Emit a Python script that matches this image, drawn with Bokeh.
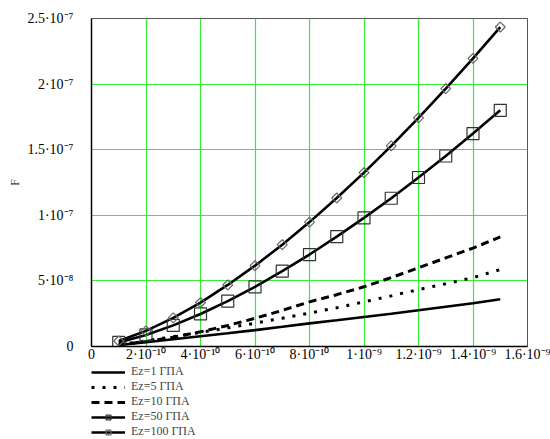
import math
from bokeh.plotting import figure
from bokeh.layouts import column
from bokeh.models import (Range1d, FixedTicker, CustomJSTickFormatter, Legend, LegendItem)
from bokeh.embed import file_html
from bokeh.resources import INLINE

# ---- data ----
x = [1e-10, 2e-10, 3e-10, 4e-10, 5e-10, 6e-10, 7e-10, 8e-10,
     9e-10, 1.0e-9, 1.1e-9, 1.2e-9, 1.3e-9, 1.4e-9, 1.5e-9]

F_ez1 = [1.2e-9, 3.3e-9, 5.5e-9, 7.8e-9, 1.01e-8, 1.25e-8, 1.5e-8, 1.76e-8,
         2.0e-8, 2.25e-8, 2.5e-8, 2.76e-8, 3.03e-8, 3.3e-8, 3.6e-8]
F_ez5 = [1.3e-9, 4.3e-9, 7.5e-9, 1.08e-8, 1.42e-8, 1.78e-8, 2.15e-8, 2.55e-8,
         2.95e-8, 3.4e-8, 3.86e-8, 4.34e-8, 4.78e-8, 5.25e-8, 5.86e-8]
F_ez10 = [1.3e-9, 3.8e-9, 7.0e-9, 1.12e-8, 1.6e-8, 2.15e-8, 2.75e-8, 3.4e-8,
          3.95e-8, 4.55e-8, 5.25e-8, 6.0e-8, 6.75e-8, 7.5e-8, 8.35e-8]
F_ez50 = [3.1e-9, 8.8e-9, 1.61e-8, 2.48e-8, 3.46e-8, 4.55e-8, 5.74e-8, 7.01e-8,
          8.37e-8, 9.8e-8, 1.13e-7, 1.288e-7, 1.452e-7, 1.623e-7, 1.80e-7]
F_ez100 = [4.2e-9, 1.19e-8, 2.18e-8, 3.35e-8, 4.69e-8, 6.16e-8, 7.76e-8, 9.48e-8,
           1.132e-7, 1.325e-7, 1.529e-7, 1.742e-7, 1.965e-7, 2.196e-7, 2.435e-7]

series_names = ["Ez=1 ГПА", "Ez=5 ГПА", "Ez=10 ГПА", "Ez=50 ГПА", "Ez=100 ГПА"]

x_ticks = [0, 2e-10, 4e-10, 6e-10, 8e-10, 1e-9, 1.2e-9, 1.4e-9, 1.6e-9]
x_tick_labels = ["0", "2·10⁻¹⁰", "4·10⁻¹⁰", "6·10⁻¹⁰", "8·10⁻¹⁰",
                 "1·10⁻⁹", "1.2·10⁻⁹", "1.4·10⁻⁹", "1.6·10⁻⁹"]
y_ticks = [0, 5e-8, 1e-7, 1.5e-7, 2e-7, 2.5e-7]
y_tick_labels = ["0", "5·10⁻⁸", "1·10⁻⁷", "1.5·10⁻⁷", "2·10⁻⁷", "2.5·10⁻⁷"]

FONT = "Liberation Serif"
GRID = "#33ee33"

# styles shared by the plot and the legend samples
STY = [
    dict(line_color="black", line_width=2.6),
    dict(line_color="black", line_width=3, line_dash="3 8"),
    dict(line_color="black", line_width=3, line_dash="8 5"),
    dict(line_color="black", line_width=2.6),
    dict(line_color="black", line_width=2.6),
]
SQ = dict(marker="square", size=12, fill_color=None, line_color="#333333", line_width=1.2)
DM = dict(marker="square", size=7, angle=math.pi / 4, fill_color=None,
          line_color="#666666", line_width=1.2)

p = figure(width=550, height=364, output_backend="svg", toolbar_location=None,
           x_range=Range1d(0, 1.6e-9), y_range=Range1d(0, 2.5e-7),
           min_border_left=91, min_border_right=23, min_border_top=18,
           min_border_bottom=17)
p.background_fill_color = "white"
p.border_fill_color = "white"
p.outline_line_color = "#555555"
p.outline_line_width = 1

fmt_js = """
let best = 0, bd = 1e99;
for (let k = 0; k < tv.length; k++) {
  const d = Math.abs(tv[k] - tick);
  if (d < bd) { bd = d; best = k; }
}
return lbl[best];
"""
p.xaxis.ticker = FixedTicker(ticks=x_ticks)
p.yaxis.ticker = FixedTicker(ticks=y_ticks)
p.xaxis.formatter = CustomJSTickFormatter(args=dict(tv=x_ticks, lbl=x_tick_labels), code=fmt_js)
p.yaxis.formatter = CustomJSTickFormatter(args=dict(tv=y_ticks, lbl=y_tick_labels), code=fmt_js)

for ax in (p.xaxis, p.yaxis):
    ax.major_tick_line_color = None
    ax.minor_tick_line_color = None
    ax.major_tick_out = 0
    ax.major_tick_in = 0
    ax.axis_line_color = "black"
    ax.axis_line_width = 1.5
    ax.major_label_text_font = FONT
    ax.major_label_text_font_size = "14px"
    ax.major_label_text_color = "black"
p.xaxis.major_label_standoff = 0
p.yaxis.major_label_standoff = 18
p.yaxis.axis_label = "F"
p.yaxis.axis_label_text_font = FONT
p.yaxis.axis_label_text_font_style = "normal"
p.yaxis.axis_label_text_font_size = "12px"
p.yaxis.axis_label_standoff = 2

p.grid.grid_line_color = GRID
p.grid.grid_line_width = 1.2

series = [F_ez1, F_ez5, F_ez10, F_ez50, F_ez100]
for ys, st in zip(series, STY):
    p.line(x, ys, **st)
p.scatter(x, F_ez50, **SQ)
p.scatter(x, F_ez100, **DM)

# ---- legend block below the chart (sample glyphs lie outside its view) ----
lg = figure(width=550, height=75, output_backend="svg", toolbar_location=None,
            x_range=Range1d(0, 1), y_range=Range1d(0, 1),
            x_axis_type=None, y_axis_type=None,
            min_border_left=88, min_border_right=0, min_border_top=0, min_border_bottom=0)
lg.outline_line_color = None
lg.grid.visible = False
lg.background_fill_color = "white"
lg.border_fill_color = "white"

off = [5, 6]
items = []
for i, (name, st) in enumerate(zip(series_names, STY)):
    rs = [lg.line(off, off, **st)]
    if i == 3:
        rs.append(lg.scatter(off, off, **SQ))
    if i == 4:
        rs.append(lg.scatter(off, off, **DM))
    items.append(LegendItem(label=name, renderers=rs))

legend = Legend(items=items, location="top_left")
legend.label_text_font = FONT
legend.label_text_font_size = "12px"
legend.label_height = 12
legend.glyph_height = 12
legend.glyph_width = 34
legend.label_standoff = 6
legend.spacing = 0
legend.padding = 0
legend.margin = 0
legend.border_line_color = None
legend.background_fill_alpha = 0
lg.add_layout(legend)

layout = column(p, lg, spacing=0)
open("out.html", "w").write(file_html(layout, INLINE))
